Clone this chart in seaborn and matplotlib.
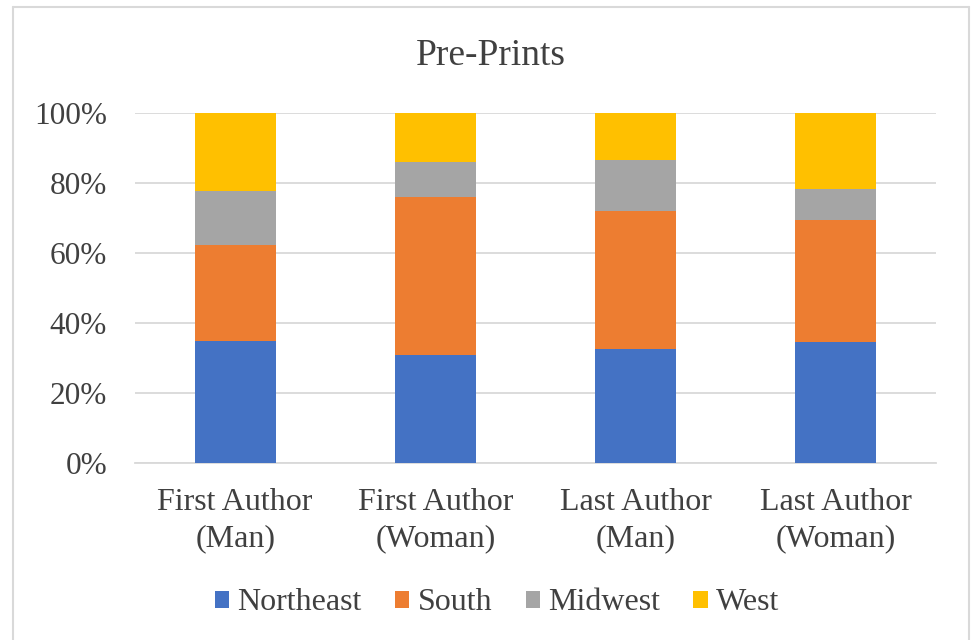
import numpy as np
import pandas as pd
import seaborn as sns
import matplotlib.pyplot as plt
from matplotlib.patches import Patch
from matplotlib.lines import Line2D
from matplotlib.ticker import PercentFormatter

# values (share of each group, %)
groups = ["First Author\n(Man)", "First Author\n(Woman)", "Last Author\n(Man)", "Last Author\n(Woman)"]
regions = ["Northeast", "South", "Midwest", "West"]
northeast = [35.0, 30.8, 32.7, 34.7]
south = [27.4, 45.2, 39.2, 34.8]
midwest = [15.2, 10.1, 14.8, 8.8]
west = [22.4, 13.9, 13.3, 21.7]
colors = ["#4472C4", "#ED7D31", "#A5A5A5", "#FFC000"]

sns.set_style("white")
plt.rcParams["font.family"] = ["Liberation Serif", "DejaVu Serif"]
text_color = "#404040"

df = pd.DataFrame({"group": groups, "Northeast": northeast, "South": south,
                   "Midwest": midwest, "West": west})
shares = df[regions].div(df[regions].sum(axis=1), axis=0)
cum = shares.cumsum(axis=1)

fig = plt.figure(figsize=(9.71, 6.40), dpi=100)
ax = fig.add_axes([135 / 971, 177 / 640, 801 / 971, 350 / 640])

# draw cumulative totals from the top segment down so they stack
for region, color in reversed(list(zip(regions, colors))):
    sns.barplot(x=df["group"], y=cum[region], color=color, width=0.405,
                saturation=1, ax=ax, zorder=3, linewidth=0)

ax.set_ylim(0, 1)
ax.set_xlim(-0.5, 3.5)
ax.yaxis.set_major_formatter(PercentFormatter(1.0, decimals=0))
ax.set_yticks(np.arange(0, 1.01, 0.2))
ax.grid(axis="y", color="#D9D9D9", linewidth=1.3, zorder=0)
ax.set_axisbelow(True)
ax.set_xlabel("")
ax.set_ylabel("")
for s in ["top", "right", "left"]:
    ax.spines[s].set_visible(False)
ax.spines["bottom"].set_color("#D9D9D9")
ax.spines["bottom"].set_linewidth(1.3)
ax.tick_params(axis="y", length=0, pad=20, labelsize=22.5, labelcolor=text_color)
ax.tick_params(axis="x", length=0, pad=18, labelsize=23, labelcolor=text_color)
for lab in ax.get_xticklabels():
    lab.set_linespacing(1.35)

fig.text(491 / 971, 1 - 56 / 640, "Pre-Prints", ha="center", va="center",
         fontsize=27, color=text_color)

handles = [Patch(facecolor=c, edgecolor="none", label=r) for r, c in zip(regions, colors)]
fig.legend(handles=handles, loc="center", bbox_to_anchor=(497 / 971, 1 - 603 / 640),
           ncol=4, frameon=False, fontsize=23, labelcolor=text_color,
           handlelength=0.45, handleheight=0.45, handletextpad=0.25, columnspacing=1.05)

# chart border
bc = "#D9D9D9"
fig.add_artist(Line2D([13 / 971, 13 / 971], [0, 1 - 7 / 640], color=bc, lw=1.5))
fig.add_artist(Line2D([13 / 971, 969 / 971], [1 - 7 / 640, 1 - 7 / 640], color=bc, lw=1.5))
fig.add_artist(Line2D([969 / 971, 969 / 971], [0, 1 - 7 / 640], color=bc, lw=1.5))

fig.savefig("out.png", dpi=100)
